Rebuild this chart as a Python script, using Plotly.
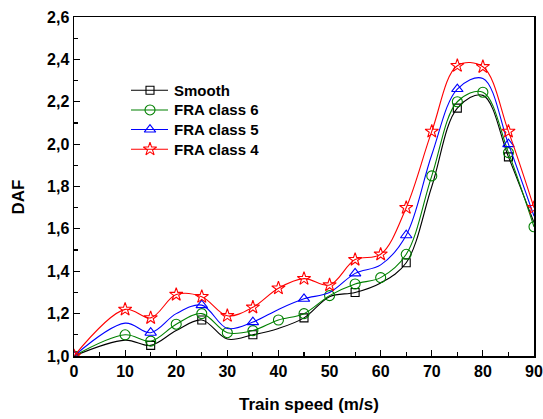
import plotly.graph_objects as go

# ---- data ----
speed = [0, 10, 15, 20, 25, 30, 35, 40, 45, 50, 55, 60, 65, 70, 75, 80, 85, 90]

smooth = [1.00, 1.075, 1.05, 1.12, 1.17, 1.08, 1.10, 1.13, 1.18, 1.28, 1.30, 1.345, 1.44, 1.80, 2.17, 2.23, 1.94, 1.63]
fra6 = [1.00, 1.10, 1.07, 1.15, 1.20, 1.11, 1.12, 1.17, 1.20, 1.285, 1.34, 1.37, 1.48, 1.85, 2.20, 2.245, 1.96, 1.61]
fra5 = [1.00, 1.155, 1.11, 1.20, 1.24, 1.13, 1.16, 1.22, 1.27, 1.30, 1.39, 1.43, 1.57, 1.95, 2.26, 2.31, 2.00, 1.66]
fra4 = [1.00, 1.22, 1.18, 1.29, 1.28, 1.19, 1.23, 1.32, 1.365, 1.335, 1.455, 1.48, 1.70, 2.06, 2.37, 2.365, 2.06, 1.70]

series_names = ["Smooth", "FRA class 6", "FRA class 5", "FRA class 4"]

x_tickvals = [0, 10, 20, 30, 40, 50, 60, 70, 80, 90]
x_ticktext = ["0", "10", "20", "30", "40", "50", "60", "70", "80", "90"]
y_tickvals = [1.0, 1.2, 1.4, 1.6, 1.8, 2.0, 2.2, 2.4, 2.6]
y_ticktext = ["1,0", "1,2", "1,4", "1,6", "1,8", "2,0", "2,2", "2,4", "2,6"]

# ---- styles / layout helpers ----
FONT = "Arial, 'Liberation Sans', sans-serif"
styles = [
    dict(color="#000000", symbol="square-open", size=8, skip=2),
    dict(color="#008000", symbol="circle-open", size=10, skip=1),
    dict(color="#0000FF", symbol="triangle-up-open", size=10, skip=2),
    dict(color="#FF0000", symbol="star-open", size=10, skip=1),
]

W, H = 543, 419
# plot area in page pixels (reference)
PX0, PX1, PY0, PY1 = 74.0, 534.0, 16.5, 356.5


def paper_x(px):
    return (px - PX0) / (PX1 - PX0)


def paper_y(py):
    return (PY1 - py) / (PY1 - PY0)


# legend key geometry (page pixels)
leg_rows = [90.0, 109.7, 129.4, 149.1]
leg_line = (131.0, 168.0)
leg_mark = 150.0
leg_text = 172.0

fig = go.Figure()
for name, ys, st in zip(series_names, [smooth, fra6, fra5, fra4], styles):
    mx = speed[::st["skip"]]
    my = ys[::st["skip"]]
    fig.add_trace(go.Scatter(
        x=speed, y=ys, mode="lines", showlegend=False, hoverinfo="skip", name=name,
        line=dict(color=st["color"], width=1.1, shape="spline", smoothing=1.0),
    ))
    fig.add_trace(go.Scatter(
        x=mx, y=my, mode="markers", showlegend=False, name=name,
        marker=dict(symbol=st["symbol"], size=st["size"], color=st["color"],
                    line=dict(color=st["color"], width=1.1)),
    ))

# legend (drawn in an overlay axis that spans the plot area, 0..1)
annotations = []
for name, st, row in zip(series_names, styles, leg_rows):
    yy = paper_y(row)
    fig.add_trace(go.Scatter(
        x=[paper_x(leg_line[0]), paper_x(leg_line[1])], y=[yy, yy], mode="lines",
        xaxis="x2", yaxis="y2", showlegend=False, hoverinfo="skip",
        line=dict(color=st["color"], width=1.1),
    ))
    fig.add_trace(go.Scatter(
        x=[paper_x(leg_mark)], y=[yy], mode="markers",
        xaxis="x2", yaxis="y2", showlegend=False, hoverinfo="skip",
        marker=dict(symbol=st["symbol"], size=st["size"], color=st["color"],
                    line=dict(color=st["color"], width=1.1)),
    ))
    annotations.append(dict(
        text=name, xref="paper", yref="paper", x=paper_x(leg_text), y=yy,
        xanchor="left", yanchor="middle", showarrow=False,
        font=dict(family=FONT, size=15, color="black", weight="bold")))

axis_common = dict(
    showgrid=False, zeroline=False, showline=True, linecolor="black", linewidth=1.5,
    mirror=True, ticks="inside", ticklen=6, tickwidth=1.2, tickcolor="black", automargin=False,
    tickfont=dict(family=FONT, size=16, color="black", weight="bold"),
)

fig.update_layout(
    xaxis=dict(range=[0, 90], tickmode="array", tickvals=x_tickvals, ticktext=x_ticktext,
               minor=dict(ticks="inside", ticklen=4, dtick=5, tickwidth=1.2, tickcolor="black", showgrid=False),
               **axis_common),
    yaxis=dict(range=[1.0, 2.6], tickmode="array", tickvals=y_tickvals, ticktext=y_ticktext,
               minor=dict(ticks="inside", ticklen=4, dtick=0.1, tickwidth=1.2, tickcolor="black", showgrid=False),
               **axis_common),
    xaxis2=dict(overlaying="x", anchor="y2", range=[0, 1], visible=False, automargin=False),
    yaxis2=dict(overlaying="y", anchor="x2", range=[0, 1], visible=False, automargin=False),
)

annotations += [
    dict(text="Train speed (m/s)", xref="paper", yref="paper", x=paper_x(309), y=paper_y(405),
         xanchor="center", yanchor="middle", showarrow=False,
         font=dict(family=FONT, size=17, color="black", weight="bold")),
    dict(text="DAF", xref="paper", yref="paper", x=paper_x(18.5), y=paper_y(197),
         xanchor="center", yanchor="middle", showarrow=False, textangle=-90,
         font=dict(family=FONT, size=17, color="black", weight="bold")),
]

fig.update_layout(
    width=W, height=H,
    margin=dict(l=PX0, r=W - PX1, t=PY0, b=H - PY1),
    paper_bgcolor="white", plot_bgcolor="white",
    showlegend=False,
    hovermode=False,
    annotations=annotations,
)

fig.write_html("out.html",
               config={"displayModeBar": False, "staticPlot": True},
               post_script="document.body.style.margin='0px';document.body.style.overflow='hidden';")
